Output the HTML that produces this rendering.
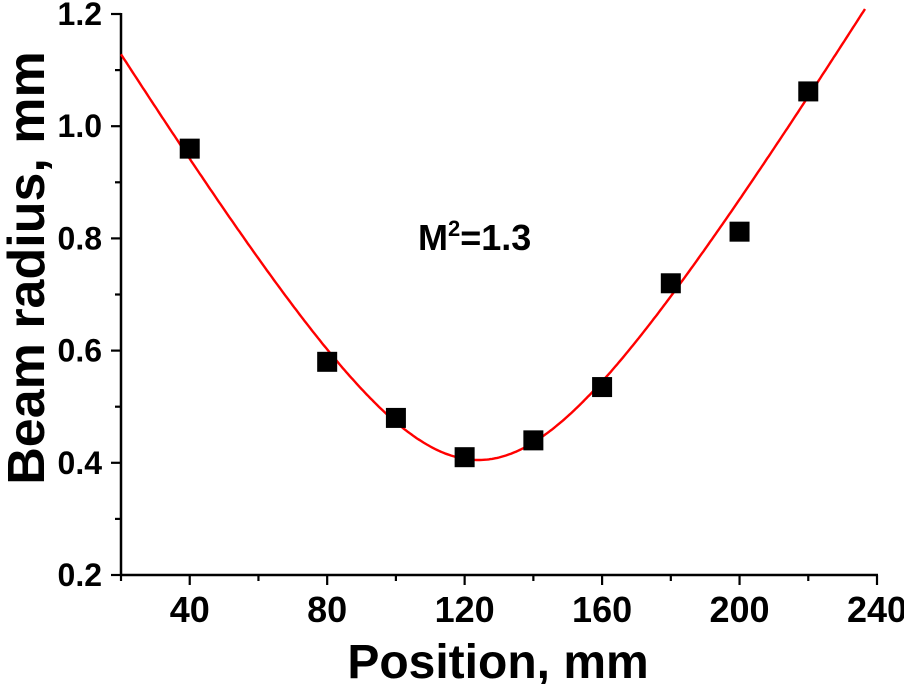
<!DOCTYPE html>
<html><head><meta charset="utf-8"><style>
body{margin:0;background:#fff;}
svg{display:block;font-family:"Liberation Sans",Arial,sans-serif;font-weight:bold;}
</style></head><body>
<svg id="chart" width="904" height="684" viewBox="0 0 904 684" xmlns="http://www.w3.org/2000/svg">
<g id="axes"></g>
<g id="fit"></g>
<g id="points"></g>
<text x="418" y="250" font-size="36" fill="#000">M<tspan dy="-14" font-size="22">2</tspan><tspan dy="14">=1.3</tspan></text>
<text x="498" y="678" font-size="48" text-anchor="middle">Position, mm</text>
<text transform="translate(44,268) rotate(-90)" font-size="52" text-anchor="middle">Beam radius, mm</text>
</svg>
<script>
const positions=[40,80,100,120,140,160,180,200,220];
const radii=[0.96,0.58,0.48,0.41,0.44,0.535,0.72,0.812,1.062];
const xTicks=[40,80,120,160,200,240];
const yTicks=[0.2,0.4,0.6,0.8,1.0,1.2];
const fitW0=0.405, fitZ0=124, fitZR=40;
const X0=121,X1=877,Y0=575,Y1=14;
const xs=v=>X0+(v-20)/(240-20)*(X1-X0);
const ys=v=>Y0-(v-0.2)/(1.0)*(Y0-Y1);
const NS="http://www.w3.org/2000/svg";
function mk(t,a,p){const e=document.createElementNS(NS,t);for(const k in a)e.setAttribute(k,a[k]);p.appendChild(e);return e;}
const ax=document.getElementById('axes');
let l=mk('line',{x1:X0,y1:Y0,x2:X1+1,y2:Y0,stroke:'#000','stroke-width':2.5},ax);


l=mk('line',{x1:X0,y1:Y0+1,x2:X0,y2:Y1-1,stroke:'#000','stroke-width':2.5},ax);


for(let v=20;v<=240;v+=20){
 mk('line',{x1:xs(v),y1:Y0,x2:xs(v),y2:Y0+(v%40==0?10:6),stroke:'#000','stroke-width':2.2},ax);}
xTicks.forEach(v=>{const t=mk('text',{x:xs(v),y:622,'font-size':36,'text-anchor':'middle'},ax);t.textContent=v;
 
 });
for(let i=0;i<=10;i++){const v=0.2+i*0.1;
 mk('line',{x1:X0,y1:ys(v),x2:X0-(i%2==0?10:6),y2:ys(v),stroke:'#000','stroke-width':2.2},ax);}
yTicks.forEach(v=>{const t=mk('text',{x:102,y:ys(v)+11,'font-size':32,'text-anchor':'end'},ax);t.textContent=v.toFixed(1);
 
 });
let d='';
for(let z=20;z<=240;z+=0.5){const w=fitW0*Math.sqrt(1+((z-fitZ0)/fitZR)**2);if(w>1.21)break;d+=(d?'L':'M')+xs(z).toFixed(1)+','+ys(w).toFixed(1);}
const p=mk('path',{d:d,fill:'none',stroke:'#ff0000','stroke-width':2.4},document.getElementById('fit'));


const pg=document.getElementById('points');
positions.forEach((z,i)=>{const r=mk('rect',{x:xs(z)-10,y:ys(radii[i])-10,width:20,height:20,fill:'#000'},pg);
 
 });
</script>
</body></html>
